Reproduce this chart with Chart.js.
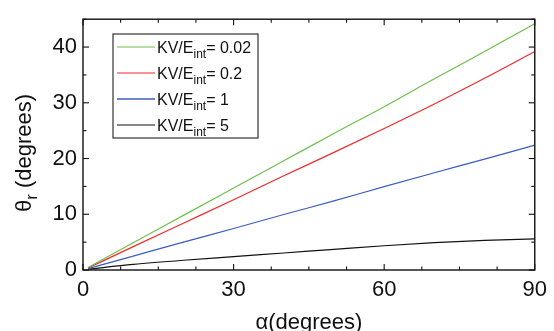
<!DOCTYPE html>
<html>
<head>
<meta charset="utf-8">
<script src="https://cdn.jsdelivr.net/npm/chart.js@4/dist/chart.umd.min.js"></script>
<style>
  html, body { margin: 0; padding: 0; background: #fff; }
  #wrap { width: 554px; height: 331px; }
</style>
</head>
<body>
<div id="wrap"><canvas id="chart" width="554" height="331"></canvas></div>
<script>
// alpha (degrees) sample points
const alpha = [1, 10, 20, 30, 40, 50, 60, 70, 80, 90];
// theta_r (degrees) for each KV/E_int
const ratios = ['0.02', '0.2', '1', '5'];
const theta002 = [0.45, 4.9, 9.8, 14.7, 19.6, 24.5, 29.3, 34.3, 39.2, 44.2];
const theta02 = [0.35, 4.2, 8.4, 12.6, 16.9, 21.1, 25.4, 29.8, 34.4, 39.2];
const theta1 = [0.25, 2.5, 5.0, 7.45, 9.95, 12.4, 14.95, 17.45, 19.9, 22.4];
const theta5 = [0.15, 1.0, 1.75, 2.4, 3.05, 3.7, 4.35, 4.9, 5.3, 5.6];
const colors = ['#6cc04a', '#f52a2a', '#3b5cbf', '#111111'];

const xTicks = [0, 30, 60, 90];
const yTicks = [0, 10, 20, 30, 40];
const xMinorStep = 7.5;
const yMinorStep = 5;

const series = [theta002, theta02, theta1, theta5];
const FONT = 'Liberation Sans, Arial, Helvetica, sans-serif';

const datasets = series.map((s, i) => ({
  label: 'KV/E_int = ' + ratios[i],
  data: alpha.map((a, j) => ({ x: a, y: s[j] })),
  borderColor: colors[i],
  borderWidth: 1.2,
  pointRadius: 0,
  fill: false,
  cubicInterpolationMode: 'monotone'
}));

function line(ctx, x1, y1, x2, y2) {
  ctx.beginPath(); ctx.moveTo(x1, y1); ctx.lineTo(x2, y2); ctx.stroke();
}

const decor = {
  id: 'decor',
  afterDraw(chart) {
    const { ctx, chartArea: a, scales: { x, y } } = chart;
    ctx.save();
    ctx.strokeStyle = '#111';
    ctx.lineWidth = 1.4;
    ctx.strokeRect(a.left, a.top, a.right - a.left, a.bottom - a.top);

    // inward ticks on all four sides
    ctx.lineWidth = 1.1;
    for (let v = 0; v <= 90; v += xMinorStep) {
      const p = x.getPixelForValue(v);
      const len = xTicks.includes(v) ? 6 : 3.5;
      line(ctx, p, a.bottom, p, a.bottom - len);
      line(ctx, p, a.top, p, a.top + len);
    }
    for (let v = 0; v <= 45; v += yMinorStep) {
      const p = y.getPixelForValue(v);
      const len = yTicks.includes(v) ? 6 : 3.5;
      line(ctx, a.left, p, a.left + len, p);
      line(ctx, a.right, p, a.right - len, p);
    }

    // y axis title: theta_r (degrees)
    ctx.save();
    ctx.translate(31, 153);
    ctx.rotate(-Math.PI / 2);
    ctx.fillStyle = '#111';
    ctx.textBaseline = 'alphabetic';
    const t1 = '\u03b8';
    const t3 = ' (degrees)';
    ctx.font = '17px ' + FONT;
    const wr = ctx.measureText('r').width;
    ctx.font = '22px ' + FONT;
    const w1 = ctx.measureText(t1).width;
    const w3 = ctx.measureText(t3).width;
    let sx = -(w1 + wr + w3) / 2;
    ctx.fillText(t1, sx, 0);
    sx += w1;
    ctx.font = '17px ' + FONT;
    ctx.fillText('r', sx, 6);
    sx += wr;
    ctx.font = '22px ' + FONT;
    ctx.fillText(t3, sx, 0);
    ctx.restore();

    // legend box
    const lx = 113, ly = 34, lw = 145, lh = 104;
    ctx.lineWidth = 1.2;
    ctx.strokeStyle = '#333';
    ctx.strokeRect(lx, ly, lw, lh);
    ratios.forEach((r, i) => {
      const cy = ly + 13 + i * 26;
      ctx.strokeStyle = colors[i];
      ctx.lineWidth = i === 2 ? 1.6 : 1.2;
      line(ctx, 117, cy, 155, cy);
      ctx.fillStyle = '#111';
      ctx.textBaseline = 'alphabetic';
      ctx.font = '16px ' + FONT;
      let tx = 157;
      ctx.fillText('KV/E', tx, cy + 6);
      tx += ctx.measureText('KV/E').width;
      ctx.font = '12px ' + FONT;
      ctx.fillText('int', tx, cy + 11);
      tx += ctx.measureText('int').width;
      ctx.font = '16px ' + FONT;
      ctx.fillText('= ' + r, tx, cy + 6);
    });
    ctx.restore();
  }
};

new Chart(document.getElementById('chart').getContext('2d'), {
  type: 'line',
  data: { datasets },
  options: {
    responsive: false,
    animation: false,
    events: [],
    layout: { padding: { left: 0, right: 14, top: 12, bottom: 0 } },
    plugins: { legend: { display: false }, tooltip: { enabled: false } },
    scales: {
      x: {
        type: 'linear',
        min: 0, max: 90,
        afterFit: s => { s.height = 61; },
        afterBuildTicks: s => { s.ticks = xTicks.map(v => ({ value: v })); },
        grid: { display: false, drawTicks: false },
        border: { display: false },
        ticks: { color: '#111', font: { family: FONT, size: 22 }, padding: 7, maxRotation: 0 },
        title: { display: true, text: '\u03b1(degrees)', color: '#111', font: { family: FONT, size: 22 }, padding: { top: 4, bottom: -5 } }
      },
      y: {
        min: 0, max: 45,
        afterFit: s => { s.width = 83; },
        afterBuildTicks: s => { s.ticks = yTicks.map(v => ({ value: v })); },
        grid: { display: false, drawTicks: false },
        border: { display: false },
        ticks: { color: '#111', font: { family: FONT, size: 22 }, padding: 6 }
      }
    }
  },
  plugins: [decor]
});
</script>
</body>
</html>
